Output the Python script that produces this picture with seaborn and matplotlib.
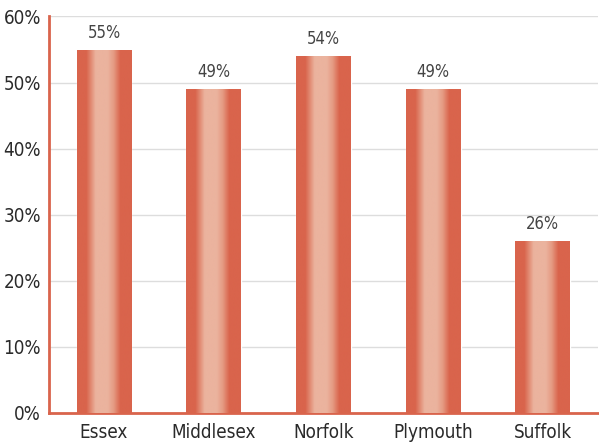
import numpy as np
import pandas as pd
import matplotlib
matplotlib.use("Agg")
import matplotlib.pyplot as plt
from matplotlib import font_manager
from matplotlib.colors import LinearSegmentedColormap
import seaborn as sns

# Chart data
counties = ["Essex", "Middlesex", "Norfolk", "Plymouth", "Suffolk"]
shares = [55, 49, 54, 49, 26]

sns.set_theme(style="whitegrid")
names = {f.name for f in font_manager.fontManager.ttflist}
narrow = [n for n in ["Liberation Sans Narrow", "DejaVu Sans Condensed"] if n in names]
plt.rcParams['font.family'] = narrow + ['DejaVu Sans']
plt.rcParams['font.stretch'] = 'condensed'

df = pd.DataFrame({"county": counties, "share": shares})

fig, ax = plt.subplots(figsize=(5.99, 4.45), dpi=100)
fig.subplots_adjust(left=0.082, right=0.998, top=0.963, bottom=0.072)

sns.barplot(data=df, x="county", y="share", color="#d9654d", width=0.5,
            saturation=1, ax=ax, zorder=2)

# cylinder-like gradient on each bar
dark = "#d9644c"
light = "#ebb39e"
cmap = LinearSegmentedColormap.from_list("cyl", [
    (0.0, dark), (0.17, dark), (0.27, "#e3927b"), (0.34, light),
    (0.56, light), (0.67, "#e59a82"), (0.79, dark), (1.0, dark)])
grad = np.linspace(0, 1, 256).reshape(1, -1)
for p in ax.patches:
    x0, y0 = p.get_x(), p.get_y()
    w, h = p.get_width(), p.get_height()
    im = ax.imshow(grad, cmap=cmap, aspect="auto", extent=(x0, x0 + w, y0, y0 + h),
                   zorder=3, interpolation="bilinear")
    im.set_clip_path(p)
    ax.text(x0 + w / 2, y0 + h + 1.2, f"{int(h)}%", ha="center", va="bottom",
            fontsize=12, color="#444444")

ax.set_xlim(-0.5, 4.5)
ax.set_ylim(0, 60)
ax.set_yticks(range(0, 61, 10))
ax.set_yticklabels([f"{v}%" for v in range(0, 61, 10)])
ax.set_xlabel("")
ax.set_ylabel("")
ax.tick_params(axis="both", labelsize=13.5, colors="#2a2a2a", length=0)
ax.tick_params(axis="y", pad=6)
ax.tick_params(axis="x", pad=7)

ax.grid(axis="x", visible=False)
ax.grid(axis="y", color="#dddddd", linewidth=1)
for side in ["top", "right"]:
    ax.spines[side].set_visible(False)
for side in ["left", "bottom"]:
    ax.spines[side].set_color("#d9644c")
    ax.spines[side].set_linewidth(2)

fig.savefig("out.png", dpi=100, facecolor="white")
